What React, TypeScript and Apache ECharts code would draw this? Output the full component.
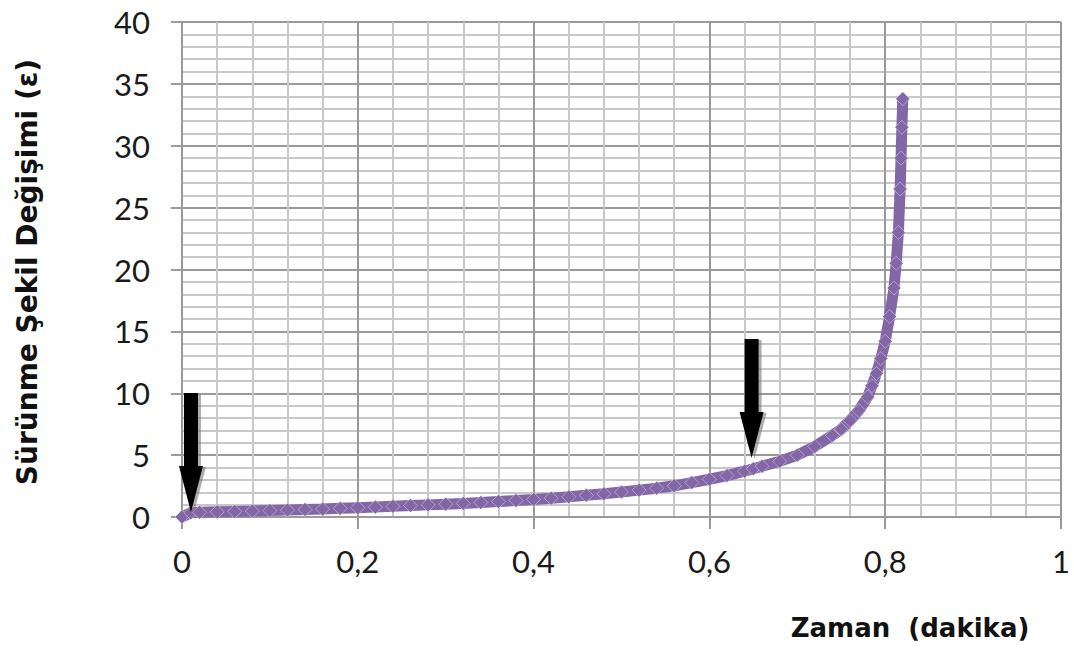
import React, { useEffect, useRef } from "react";
import * as echarts from "echarts";

// Time (minutes)
const timeValues = [
  0, 0.01, 0.02, 0.04, 0.06, 0.08, 0.1, 0.12, 0.14, 0.16, 0.18, 0.2, 0.22, 0.24, 0.26, 0.28,
  0.3, 0.32, 0.34, 0.36, 0.38, 0.4, 0.42, 0.44, 0.46, 0.48, 0.5, 0.52, 0.54, 0.56, 0.58,
  0.6, 0.62, 0.64, 0.65, 0.66, 0.68, 0.7, 0.72, 0.74, 0.75, 0.76, 0.77, 0.78, 0.785, 0.79,
  0.795, 0.8, 0.805, 0.81, 0.8125, 0.815, 0.817, 0.818, 0.819, 0.82,
];
// Creep strain
const strainValues = [
  0, 0.35, 0.38, 0.42, 0.45, 0.48, 0.52, 0.56, 0.6, 0.64, 0.7, 0.75, 0.8, 0.86, 0.92, 0.98,
  1.04, 1.1, 1.17, 1.25, 1.33, 1.42, 1.52, 1.63, 1.75, 1.88, 2.02, 2.17, 2.33, 2.52, 2.78,
  3.05, 3.35, 3.7, 3.9, 4.1, 4.5, 5.0, 5.7, 6.6, 7.1, 7.8, 8.6, 9.7, 10.6, 11.6,
  12.8, 14.2, 16.2, 18.5, 20.5, 23, 26.5, 29, 31.5, 33.8,
];

// Arrow annotation tips (data coordinates)
const arrowTips: [number, number][] = [
  [0.0102, 0.4],
  [0.648, 4.77],
];

const xTitle = "Zaman  (dakika)";
const yTitle = "Sürünme Şekil Değişimi (ε)";

export default function App() {
  const ref = useRef<HTMLDivElement>(null);
  useEffect(() => {
    if (!ref.current) return;
    const chart = echarts.init(ref.current, null, { renderer: "svg" });
    const data = timeValues.map((t, i) => [t, strainValues[i]]);
    const majorLine = { show: true, lineStyle: { color: "#9a9a9a", width: 2 } };
    const minorLine = { show: true, lineStyle: { color: "#c8c8c8", width: 2 } };
    chart.setOption({
      animation: false,
      backgroundColor: "#ffffff",
      grid: { left: 182, right: 13, top: 22, bottom: 132, containLabel: false },
      xAxis: {
        type: "value",
        min: 0,
        max: 1,
        interval: 0.2,
        axisLine: { show: true, onZero: false, lineStyle: { color: "#9a9a9a", width: 2 } },
        axisTick: { show: true, inside: false, length: 12, lineStyle: { color: "#9a9a9a", width: 2 } },
        axisLabel: {
          margin: 28,
          fontFamily: "Lato",
          fontSize: 31,
          color: "#1a1a1a",
          formatter: (v: number) => String(Math.round(v * 10) / 10).replace(".", ","),
        },
        splitLine: majorLine,
        minorTick: { show: false, splitNumber: 5 },
        minorSplitLine: minorLine,
      },
      yAxis: {
        type: "value",
        min: 0,
        max: 40,
        interval: 5,
        axisLine: { show: true, onZero: false, lineStyle: { color: "#9a9a9a", width: 2 } },
        axisTick: { show: true, inside: false, length: 11, lineStyle: { color: "#9a9a9a", width: 2 } },
        axisLabel: {
          margin: 32,
          fontFamily: "Lato",
          fontSize: 31,
          color: "#1a1a1a",
        },
        splitLine: majorLine,
        minorTick: { show: false, splitNumber: 5 },
        minorSplitLine: minorLine,
      },
      series: [
        {
          type: "line",
          data,
          symbol: "diamond",
          symbolSize: 14,
          showAllSymbol: true,
          lineStyle: { color: "#8366a6", width: 11 },
          itemStyle: { color: "#8366a6", borderColor: "rgba(255,255,255,0.4)", borderWidth: 1 },
          z: 3,
        },
      ],
    });

    const arrows: any[] = [];
    const shaftW = 14;
    const headW = 24;
    const headH = 46;
    const shaftH = 73;
    arrowTips.forEach((tip) => {
      const p = chart.convertToPixel({ gridIndex: 0 }, tip) as number[];
      const [tx, ty] = p;
      const pts = (dx: number, dy: number) => [
        [tx - shaftW / 2 + dx, ty - headH - shaftH + dy],
        [tx + shaftW / 2 + dx, ty - headH - shaftH + dy],
        [tx + shaftW / 2 + dx, ty - headH + dy],
        [tx + headW / 2 + dx, ty - headH + dy],
        [tx + dx, ty + dy],
        [tx - headW / 2 + dx, ty - headH + dy],
        [tx - shaftW / 2 + dx, ty - headH + dy],
      ];
      arrows.push({
        type: "polygon",
        shape: { points: pts(3, 1) },
        style: { fill: "rgba(120,120,120,0.6)" },
        z: 10,
      });
      arrows.push({
        type: "polygon",
        shape: { points: pts(0, 0) },
        style: { fill: "#000000" },
        z: 11,
      });
    });

    chart.setOption({
      graphic: [
        ...arrows,
        {
          type: "text",
          x: 910,
          y: 628,
          style: {
            text: xTitle,
            fontFamily: "DejaVu Sans",
            fontWeight: "bold",
            fontSize: 26,
            fill: "#111",
            align: "center",
            verticalAlign: "middle",
          },
          z: 12,
        },
        {
          type: "text",
          x: 27,
          y: 272,
          rotation: Math.PI / 2,
          style: {
            text: yTitle,
            fontFamily: "DejaVu Sans",
            fontWeight: "bold",
            fontSize: 28,
            fill: "#111",
            align: "center",
            verticalAlign: "middle",
          },
          z: 12,
        },
      ],
    });
    return () => chart.dispose();
  }, []);
  return (
    <div
      ref={ref}
      style={{ position: "fixed", left: 0, top: 0, width: 1074, height: 649, background: "#fff" }}
    />
  );
}
